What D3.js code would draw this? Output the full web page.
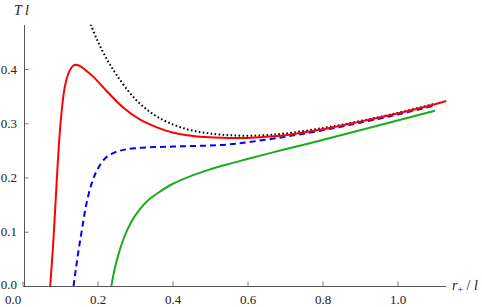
<!DOCTYPE html>
<html>
<head>
<meta charset="utf-8">
<script src="https://cdn.jsdelivr.net/npm/d3@7"></script>
<style>
  body { margin: 0; background: #fff; }
</style>
</head>
<body>
<div id="chart"></div>
<script>
// [r+/l, T l]
const redCurve = [
  [0.074, 0], [0.078, 0.04], [0.082, 0.08], [0.087, 0.14], [0.091, 0.19],
  [0.097, 0.26], [0.103, 0.312], [0.11, 0.355], [0.115, 0.374], [0.125, 0.396],
  [0.135, 0.406], [0.144, 0.408], [0.155, 0.405], [0.17, 0.397], [0.19, 0.385],
  [0.226, 0.358], [0.27, 0.328], [0.315, 0.306], [0.36, 0.292], [0.4, 0.283],
  [0.45, 0.277], [0.5, 0.274], [0.55, 0.273], [0.6, 0.273], [0.65, 0.275],
  [0.7, 0.278], [0.8, 0.289], [0.9, 0.303], [1.0, 0.318], [1.1, 0.335], [1.13, 0.341]
];
const blueCurve = [
  [0.136, 0], [0.142, 0.03], [0.15, 0.068], [0.16, 0.11], [0.17, 0.15],
  [0.185, 0.19], [0.2, 0.215], [0.22, 0.235], [0.245, 0.246], [0.27, 0.251],
  [0.3, 0.254], [0.35, 0.256], [0.4, 0.257], [0.45, 0.258], [0.5, 0.259],
  [0.55, 0.261], [0.6, 0.265], [0.7, 0.275], [0.8, 0.287], [0.9, 0.301],
  [1.0, 0.316], [1.1, 0.333]
];
const greenCurve = [
  [0.237, 0], [0.245, 0.029], [0.255, 0.056], [0.27, 0.088], [0.29, 0.118],
  [0.31, 0.139], [0.335, 0.158], [0.36, 0.171], [0.4, 0.188], [0.45, 0.203],
  [0.5, 0.215], [0.55, 0.225], [0.6, 0.234], [0.7, 0.252], [0.8, 0.269],
  [0.9, 0.287], [1.0, 0.305], [1.1, 0.323]
];
const blackCurve = [
  [0.182, 0.482], [0.2, 0.452], [0.225, 0.418], [0.25, 0.39], [0.3, 0.345],
  [0.35, 0.316], [0.4, 0.298], [0.45, 0.287], [0.5, 0.281], [0.55, 0.278],
  [0.6, 0.277], [0.65, 0.278], [0.7, 0.281], [0.8, 0.291], [0.9, 0.304],
  [1.0, 0.319], [1.1, 0.336]
];

const xTicks = [0, 0.2, 0.4, 0.6, 0.8, 1.0];
const xMinor = [0.05, 0.1, 0.15, 0.25, 0.3, 0.35, 0.45, 0.5, 0.55, 0.65, 0.7, 0.75, 0.85, 0.9, 0.95, 1.05, 1.1];
const yTicks = [0, 0.1, 0.2, 0.3, 0.4];
const yMinor = [0.02, 0.04, 0.06, 0.08, 0.12, 0.14, 0.16, 0.18, 0.22, 0.24, 0.26, 0.28,
  0.32, 0.34, 0.36, 0.38, 0.42, 0.44, 0.46, 0.48];

const width = 482, height = 307;
const serif = "Liberation Serif";

const svg = d3.select("#chart").append("svg")
  .attr("width", width)
  .attr("height", height)
  .style("display", "block")
  .style("font-family", serif);

const x = d3.scaleLinear().domain([0, 1.128]).range([22.5, 445.5]);
const y = d3.scaleLinear().domain([0, 0.482]).range([286, 24.5]);

svg.append("defs").append("clipPath").attr("id", "plot")
  .append("rect")
  .attr("x", 0).attr("y", y(0.482))
  .attr("width", width).attr("height", y(0) - y(0.482));

const axisColor = "#555";

// x axis
const gx = svg.append("g").attr("transform", `translate(0,${y(0)})`);
gx.call(d3.axisBottom(x).tickValues(xMinor).tickSizeInner(-2.5).tickSizeOuter(0).tickFormat(""));
gx.call(d3.axisBottom(x).tickValues(xTicks).tickSizeInner(-4.5).tickSizeOuter(0)
  .tickPadding(9).tickFormat(d3.format(".1f")));

// y axis
const gy = svg.append("g").attr("transform", `translate(${x(0) + 1.5},0)`);
gy.call(d3.axisLeft(y).tickValues(yMinor).tickSizeInner(-2.5).tickSizeOuter(0).tickFormat(""));
gy.call(d3.axisLeft(y).tickValues(yTicks).tickSizeInner(-4.5).tickSizeOuter(0)
  .tickPadding(7).tickFormat(d3.format(".1f")));

gx.attr("font-family", null).attr("font-size", null);
gy.attr("font-family", null).attr("font-size", null);
svg.selectAll(".domain").attr("stroke", axisColor).attr("stroke-width", 1);
svg.selectAll(".tick line").attr("stroke", axisColor).attr("stroke-width", 0.8);
svg.selectAll(".tick text")
  .attr("fill", "#222")
  .style("font-family", serif)
  .style("font-size", "13px");

// origin labels: x one sits left of the y axis, y one a touch higher
gx.selectAll(".tick text").filter(d => d === 0).attr("dx", -10);
gy.selectAll(".tick text").filter(d => d === 0).attr("y", -1.5);

// axis labels
svg.append("text")
  .attr("x", 14).attr("y", 15)
  .style("font-family", serif)
  .style("font-size", "14px").style("font-style", "italic")
  .attr("fill", "#222")
  .text("T l");

const xl = svg.append("text")
  .attr("x", 452).attr("y", 290)
  .style("font-family", serif)
  .style("font-size", "14px")
  .attr("fill", "#222");
xl.append("tspan").style("font-style", "italic").text("r");
xl.append("tspan").attr("dy", 3).style("font-size", "10px").text("+");
xl.append("tspan").attr("dy", -3).text(" / ");
xl.append("tspan").style("font-style", "italic").text("l");

// curves
const line = d3.line()
  .x(d => x(d[0]))
  .y(d => y(d[1]))
  .curve(d3.curveCatmullRom.alpha(0.5));

const curves = svg.append("g").attr("clip-path", "url(#plot)").attr("fill", "none");

curves.append("path").datum(greenCurve)
  .attr("d", line).attr("stroke", "#1aaa1a").attr("stroke-width", 2);

curves.append("path").datum(blueCurve)
  .attr("d", line).attr("stroke", "#0000ff").attr("stroke-width", 2)
  .attr("stroke-dasharray", "6,4");

curves.append("path").datum(blackCurve)
  .attr("d", line).attr("stroke", "#000").attr("stroke-width", 2)
  .attr("stroke-dasharray", "1.6,2.4");

curves.append("path").datum(redCurve)
  .attr("d", line).attr("stroke", "#ff0000").attr("stroke-width", 2);
</script>
</body>
</html>
